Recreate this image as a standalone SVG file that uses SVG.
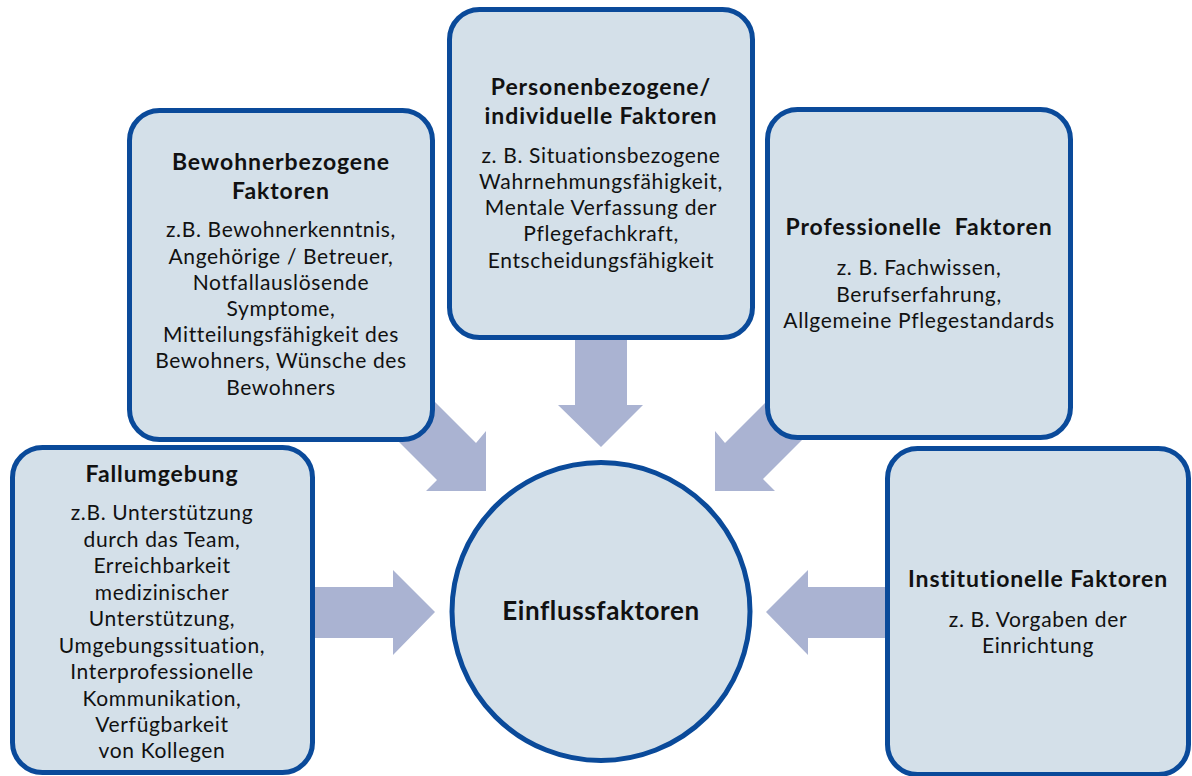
<svg xmlns="http://www.w3.org/2000/svg" width="1192" height="776" viewBox="0 0 1192 776">
<style>
.box{fill:#D4E0E9;stroke:#0A4A9A;stroke-width:5}
.arr{fill:#AAB3D2}
text{font-family:Lato,"Liberation Sans",sans-serif;fill:#111;text-anchor:middle}
.t{font-weight:bold;font-size:23px;letter-spacing:0.9px}
.b{font-size:21px;letter-spacing:0.65px}
.c{font-weight:bold;font-size:26px;letter-spacing:0.6px}
</style>
<rect width="1192" height="776" fill="#fff"/>
<g id="connectors">
<polygon class="arr" points="300,587 393,587 393,570 435,612 393,655 393,638 300,638"/>
<polygon class="arr" points="766,612 808,570 808,587 895,587 895,638 808,638 808,655"/>
<polygon class="arr" points="575,320 627,320 627,405 643,405 601,447 558,405 575,405"/>
<polygon class="arr" points="486,491 486,431 476,443 400,367 361,404 437,480 426,491"/>
<polygon class="arr" points="715,491 715,431 725,443 800,368 838,404 763,479 775,491"/>
</g>
<g id="fallumgebung">
<rect class="box" x="12.5" y="447.5" width="300" height="325" rx="30"/>
<text class="t" x="162" y="482">Fallumgebung</text>
<text class="b" x="162" y="520">z.B. Unterstützung</text>
<text class="b" x="162" y="547">durch das Team,</text>
<text class="b" x="162" y="573">Erreichbarkeit</text>
<text class="b" x="162" y="600">medizinischer</text>
<text class="b" x="162" y="626">Unterstützung,</text>
<text class="b" x="162" y="653">Umgebungssituation,</text>
<text class="b" x="162" y="679">Interprofessionelle</text>
<text class="b" x="162" y="706">Kommunikation,</text>
<text class="b" x="162" y="732">Verfügbarkeit</text>
<text class="b" x="162" y="758">von Kollegen</text>
</g>
<g id="bewohner">
<rect class="box" x="129.5" y="110.5" width="303" height="329" rx="30"/>
<text class="t" x="281" y="170">Bewohnerbezogene</text>
<text class="t" x="281" y="199">Faktoren</text>
<text class="b" x="281" y="237">z.B. Bewohnerkenntnis,</text>
<text class="b" x="281" y="264">Angehörige / Betreuer,</text>
<text class="b" x="281" y="290">Notfallauslösende</text>
<text class="b" x="281" y="316">Symptome,</text>
<text class="b" x="281" y="342">Mitteilungsfähigkeit des</text>
<text class="b" x="281" y="368">Bewohners, Wünsche des</text>
<text class="b" x="281" y="395">Bewohners</text>
</g>
<g id="personen">
<rect class="box" x="449.5" y="9.5" width="303" height="328" rx="30"/>
<text class="t" x="601" y="95">Personenbezogene/</text>
<text class="t" x="601" y="124">individuelle Faktoren</text>
<text class="b" x="601" y="163">z. B. Situationsbezogene</text>
<text class="b" x="601" y="189">Wahrnehmungsfähigkeit,</text>
<text class="b" x="601" y="215">Mentale Verfassung der</text>
<text class="b" x="601" y="241">Pflegefachkraft,</text>
<text class="b" x="601" y="268">Entscheidungsfähigkeit</text>
</g>
<g id="professionelle">
<rect class="box" x="767.5" y="109.5" width="303" height="328" rx="30"/>
<text class="t" x="919" y="235" xml:space="preserve">Professionelle  Faktoren</text>
<text class="b" x="919" y="275">z. B. Fachwissen,</text>
<text class="b" x="919" y="302">Berufserfahrung,</text>
<text class="b" x="919" y="328">Allgemeine Pflegestandards</text>
</g>
<g id="institutionelle">
<rect class="box" x="887.5" y="448.5" width="301" height="326" rx="30"/>
<text class="t" x="1038" y="587">Institutionelle Faktoren</text>
<text class="b" x="1038" y="627">z. B. Vorgaben der</text>
<text class="b" x="1038" y="653">Einrichtung</text>
</g>
<g id="einflussfaktoren">
<circle class="box" cx="601" cy="611.5" r="149"/>
<text class="c" x="601" y="620">Einflussfaktoren</text>
</g>
</svg>
